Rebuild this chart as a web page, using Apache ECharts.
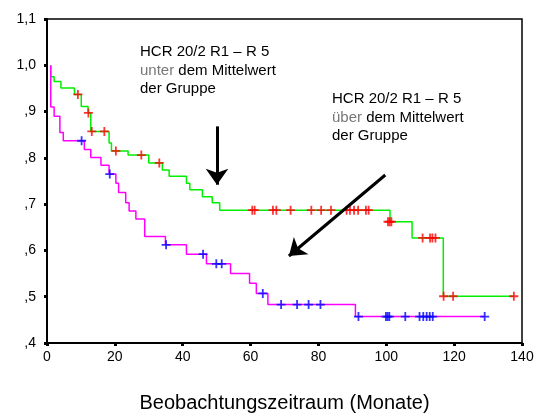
<!DOCTYPE html>
<html>
<head>
<meta charset="utf-8">
<script src="https://cdn.jsdelivr.net/npm/echarts@6/dist/echarts.min.js"></script>
<style>
  html, body { margin: 0; padding: 0; background: #fff; }
  #chart { width: 539px; height: 418px; }
</style>
</head>
<body>
<div id="chart"></div>
<script>
// Kaplan-Meier Kurven
// [Monate, kumulatives Überleben] - Stufe fällt am jeweiligen Zeitpunkt
var greenCurve = [
  [1.1, 1.0], [1.1, 0.975], [2.1, 0.965], [4.1, 0.951], [8.1, 0.937], [10.1, 0.911],
  [12.1, 0.897], [12.9, 0.857], [18.3, 0.832], [19.0, 0.815], [23.9, 0.806],
  [30.0, 0.789], [34.0, 0.774], [36.0, 0.760], [41.1, 0.745], [42.1, 0.731],
  [45.8, 0.716], [48.7, 0.703], [50.9, 0.687], [101.1, 0.662], [107.6, 0.627],
  [116.8, 0.501], [137.6, 0.501]
];
var greenCensored = [
  [9.1, 0.937], [12.2, 0.897], [13.2, 0.857], [16.9, 0.857], [20.3, 0.815],
  [27.8, 0.806], [33.1, 0.789],
  [60.5, 0.687], [61.2, 0.687], [66.6, 0.687], [67.6, 0.687], [71.8, 0.687],
  [77.9, 0.687], [80.8, 0.687], [83.7, 0.687], [88.3, 0.687], [89.3, 0.687],
  [90.5, 0.687], [91.7, 0.687], [94.0, 0.687], [94.8, 0.687],
  [100.5, 0.662], [101.0, 0.662], [101.5, 0.662],
  [110.7, 0.627], [112.9, 0.627], [113.6, 0.627], [114.5, 0.627],
  [116.9, 0.501], [119.7, 0.501], [137.6, 0.501]
];
var pinkCurve = [
  [1.1, 1.0], [1.1, 0.910], [2.1, 0.890], [3.8, 0.855], [4.8, 0.837], [11.0, 0.818],
  [12.9, 0.801], [15.9, 0.784], [18.3, 0.765], [20.3, 0.745], [21.1, 0.725],
  [23.2, 0.703], [24.2, 0.685], [26.2, 0.668], [28.8, 0.630], [34.9, 0.612],
  [41.1, 0.592], [47.0, 0.571], [54.1, 0.550], [59.7, 0.529], [61.7, 0.507],
  [65.1, 0.483], [90.9, 0.457], [129.0, 0.457]
];
var pinkCensored = [
  [10.2, 0.837], [18.5, 0.765], [35.1, 0.612], [46.0, 0.592], [49.9, 0.571],
  [51.5, 0.571], [63.6, 0.507], [69.0, 0.483], [73.7, 0.483], [77.1, 0.483],
  [80.6, 0.483], [91.8, 0.457], [99.9, 0.457], [100.4, 0.457], [100.9, 0.457],
  [105.6, 0.457], [109.8, 0.457], [110.9, 0.457], [111.9, 0.457], [112.8, 0.457],
  [113.7, 0.457], [129.0, 0.457]
];
// Pfeile: [Start, Spitze]
var arrowUnter = [[50.1, 0.868], [50.1, 0.742]];
var arrowUeber = [[99.7, 0.763], [71.3, 0.588]];

var FONT = '"Liberation Sans", Arial, sans-serif';
var plus = 'path://M4,0h2v4h4v2h-4v4h-2v-4h-4v-2h4z';

var chart = echarts.init(document.getElementById('chart'));
chart.setOption({
  animation: false,
  grid: {
    left: 47, right: 17, top: 19, bottom: 75,
    show: true, borderColor: '#000', borderWidth: 1.5
  },
  xAxis: {
    type: 'value', min: 0, max: 140, interval: 20,
    name: 'Beobachtungszeitraum (Monate)',
    nameLocation: 'middle', nameGap: 50,
    nameTextStyle: { fontFamily: FONT, fontSize: 20, color: '#000' },
    axisLine: { lineStyle: { color: '#000', width: 2 } },
    axisTick: { length: 3, lineStyle: { color: '#000', width: 3 } },
    axisLabel: { margin: 7, fontFamily: FONT, fontSize: 14, color: '#000' },
    splitLine: { show: false }
  },
  yAxis: {
    type: 'value', min: 0.4, max: 1.1, interval: 0.1,
    axisLine: { show: true, lineStyle: { color: '#000', width: 2 } },
    axisTick: { show: true, length: 3, lineStyle: { color: '#000', width: 3 } },
    axisLabel: {
      margin: 11, fontFamily: FONT, fontSize: 14, color: '#000',
      formatter: function (v) {
        return v.toFixed(1).replace('.', ',').replace(/^0/, '');
      }
    },
    splitLine: { show: false }
  },
  series: [
    {
      type: 'line', step: 'end', data: greenCurve, symbol: 'none',
      lineStyle: { color: '#00ee00', width: 1.5 }, z: 2
    },
    {
      type: 'line', step: 'end', data: pinkCurve, symbol: 'none',
      lineStyle: { color: '#ff00ff', width: 1.5 }, z: 2
    },
    {
      type: 'scatter', data: greenCensored, symbol: plus, symbolSize: 9,
      itemStyle: { color: '#ff0000' }, z: 3
    },
    {
      type: 'scatter', data: pinkCensored, symbol: plus, symbolSize: 9,
      itemStyle: { color: '#0000ff' }, z: 3,
      markLine: {
        silent: true,
        symbol: ['none', 'arrow'],
        symbolSize: [17, 16],
        label: { show: false },
        lineStyle: { color: '#000', width: 3, type: 'solid' },
        data: [
          [{ coord: arrowUnter[0] }, { coord: arrowUnter[1] }],
          [{ coord: arrowUeber[0] }, { coord: arrowUeber[1] }]
        ]
      }
    }
  ],
  graphic: [
    {
      type: 'text', left: 140, top: 43,
      style: {
        text: 'HCR 20/2 R1 – R 5\n{g|unter} dem Mittelwert\nder Gruppe',
        font: '15px ' + FONT, fill: '#000', lineHeight: 18.5,
        rich: { g: { fill: '#777', font: '15px ' + FONT, lineHeight: 18.5 } }
      }
    },
    {
      type: 'text', left: 332, top: 90,
      style: {
        text: 'HCR 20/2 R1 – R 5\n{g|über} dem Mittelwert\nder Gruppe',
        font: '15px ' + FONT, fill: '#000', lineHeight: 18.5,
        rich: { g: { fill: '#777', font: '15px ' + FONT, lineHeight: 18.5 } }
      }
    }
  ]
});
</script>
</body>
</html>
